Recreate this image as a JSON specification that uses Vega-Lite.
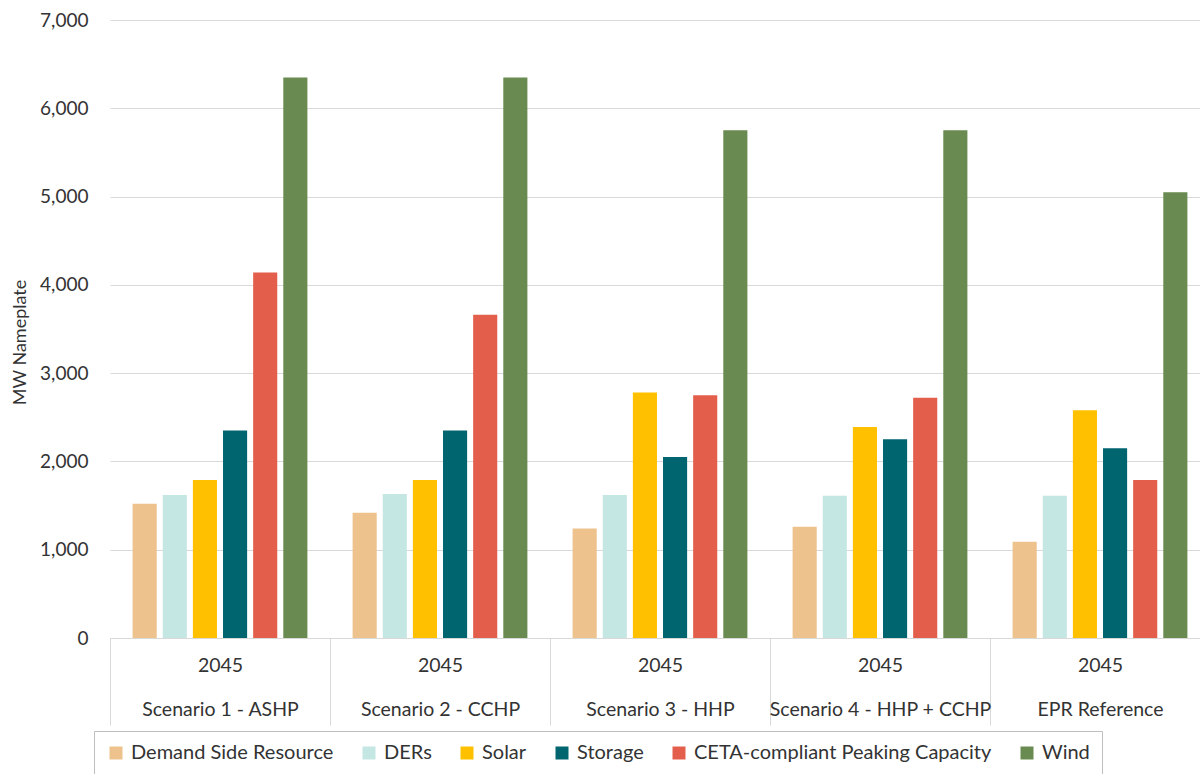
{
  "$schema": "https://vega.github.io/schema/vega-lite/v6.json",
  "width": 1090,
  "height": 618,
  "autosize": {"type": "none"},
  "padding": {"left": 110, "top": 20, "right": 0, "bottom": 136},
  "background": "white",
  "config": {
    "font": "Lato",
    "view": {"stroke": null}
  },
  "data": {
    "values": [
      {"scenario": "Scenario 1 - ASHP", "resource": "Demand Side Resource", "mw": 1520},
      {"scenario": "Scenario 1 - ASHP", "resource": "DERs", "mw": 1620},
      {"scenario": "Scenario 1 - ASHP", "resource": "Solar", "mw": 1790},
      {"scenario": "Scenario 1 - ASHP", "resource": "Storage", "mw": 2350},
      {"scenario": "Scenario 1 - ASHP", "resource": "CETA-compliant Peaking Capacity", "mw": 4140},
      {"scenario": "Scenario 1 - ASHP", "resource": "Wind", "mw": 6350},
      {"scenario": "Scenario 2 - CCHP", "resource": "Demand Side Resource", "mw": 1420},
      {"scenario": "Scenario 2 - CCHP", "resource": "DERs", "mw": 1630},
      {"scenario": "Scenario 2 - CCHP", "resource": "Solar", "mw": 1790},
      {"scenario": "Scenario 2 - CCHP", "resource": "Storage", "mw": 2350},
      {"scenario": "Scenario 2 - CCHP", "resource": "CETA-compliant Peaking Capacity", "mw": 3660},
      {"scenario": "Scenario 2 - CCHP", "resource": "Wind", "mw": 6350},
      {"scenario": "Scenario 3 - HHP", "resource": "Demand Side Resource", "mw": 1240},
      {"scenario": "Scenario 3 - HHP", "resource": "DERs", "mw": 1620},
      {"scenario": "Scenario 3 - HHP", "resource": "Solar", "mw": 2780},
      {"scenario": "Scenario 3 - HHP", "resource": "Storage", "mw": 2050},
      {"scenario": "Scenario 3 - HHP", "resource": "CETA-compliant Peaking Capacity", "mw": 2750},
      {"scenario": "Scenario 3 - HHP", "resource": "Wind", "mw": 5750},
      {"scenario": "Scenario 4 - HHP + CCHP", "resource": "Demand Side Resource", "mw": 1260},
      {"scenario": "Scenario 4 - HHP + CCHP", "resource": "DERs", "mw": 1610},
      {"scenario": "Scenario 4 - HHP + CCHP", "resource": "Solar", "mw": 2390},
      {"scenario": "Scenario 4 - HHP + CCHP", "resource": "Storage", "mw": 2250},
      {"scenario": "Scenario 4 - HHP + CCHP", "resource": "CETA-compliant Peaking Capacity", "mw": 2720},
      {"scenario": "Scenario 4 - HHP + CCHP", "resource": "Wind", "mw": 5750},
      {"scenario": "EPR Reference", "resource": "Demand Side Resource", "mw": 1090},
      {"scenario": "EPR Reference", "resource": "DERs", "mw": 1610},
      {"scenario": "EPR Reference", "resource": "Solar", "mw": 2580},
      {"scenario": "EPR Reference", "resource": "Storage", "mw": 2150},
      {"scenario": "EPR Reference", "resource": "CETA-compliant Peaking Capacity", "mw": 1790},
      {"scenario": "EPR Reference", "resource": "Wind", "mw": 5050}
    ]
  },
  "mark": {"type": "bar"},
  "encoding": {
    "x": {
      "field": "scenario",
      "type": "nominal",
      "sort": ["Scenario 1 - ASHP", "Scenario 2 - CCHP", "Scenario 3 - HHP", "Scenario 4 - HHP + CCHP", "EPR Reference"],
      "scale": {"paddingInner": 0, "paddingOuter": 0, "range": [0, 1100]},
      "axis": {
        "title": null,
        "domainColor": "#d9d9d9",
        "domainWidth": 1,
        "tickColor": "#d9d9d9",
        "tickBand": "extent",
        "tickSize": 87,
        "labelExpr": "datum.label ? ['2045', datum.label] : ''",
        "labelFontSize": 19.5,
        "labelColor": "#333333",
        "labelLineHeight": 44,
        "labelPadding": -69,
        "labelLimit": 0,
        "labelOverlap": false,
        "labelAngle": 0,
        "grid": false
      }
    },
    "xOffset": {
      "field": "resource",
      "sort": ["Demand Side Resource", "DERs", "Solar", "Storage", "CETA-compliant Peaking Capacity", "Wind"],
      "scale": {"paddingInner": 0.2, "paddingOuter": 0.75}
    },
    "y": {
      "field": "mw",
      "type": "quantitative",
      "scale": {"domain": [0, 7000]},
      "axis": {
        "title": "MW Nameplate",
        "titleFontSize": 18,
        "titleFontWeight": "normal",
        "titleColor": "#333333",
        "titlePadding": 10,
        "titleY": 322,
        "values": [0, 1000, 2000, 3000, 4000, 5000, 6000, 7000],
        "format": ",d",
        "labelFontSize": 19,
        "labelColor": "#333333",
        "labelPadding": 22,
        "ticks": false,
        "domain": false,
        "gridColor": "#d9d9d9",
        "gridWidth": 1
      }
    },
    "color": {
      "field": "resource",
      "type": "nominal",
      "scale": {
        "domain": ["Demand Side Resource", "DERs", "Solar", "Storage", "CETA-compliant Peaking Capacity", "Wind"],
        "range": ["#edc28d", "#c5e7e4", "#ffc000", "#00656f", "#e35f4b", "#698b51"]
      },
      "legend": {
        "title": null,
        "orient": "none",
        "legendX": -16,
        "legendY": 711,
        "direction": "horizontal",
        "strokeColor": "#bfbfbf",
        "fillColor": "white",
        "padding": 12,
        "symbolType": "square",
        "symbolSize": 169,
        "symbolStrokeWidth": 0,
        "labelOffset": 5,
        "labelFontSize": 20,
        "labelColor": "#333333",
        "labelLimit": 0,
        "columnPadding": 25
      }
    }
  }
}
